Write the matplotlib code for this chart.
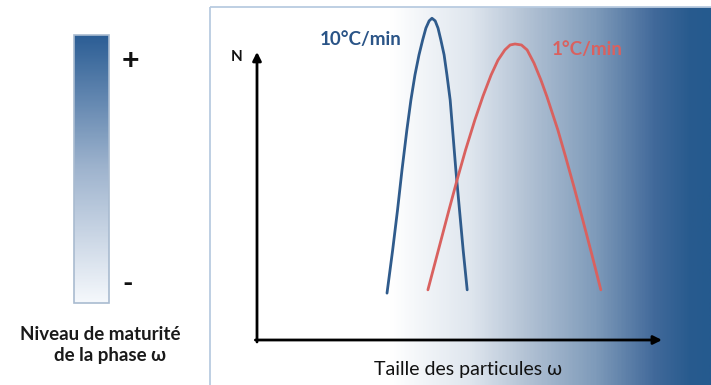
import numpy as np
import matplotlib
matplotlib.use("Agg")
import matplotlib.pyplot as plt
from matplotlib.colors import LinearSegmentedColormap
from matplotlib.patches import Rectangle

plt.rcParams['font.family'] = ['Lato', 'DejaVu Sans']

# schematic curves: particle size (arbitrary units) vs N (arbitrary units)
size_10 = [32.1, 33.5, 34.7, 35.8, 37.0, 38.0, 39.0, 40.0, 40.9, 41.7, 42.5, 43.2,
           44.0, 44.7, 45.4, 46.2, 46.9, 47.7, 48.3, 49.1, 50.0, 50.9, 51.9]
n_10 = [14.2, 27.3, 39.4, 51.5, 63.6, 72.7, 80.3, 86.4, 90.9, 94.5, 96.7, 97.5,
        96.7, 94.5, 90.9, 86.4, 80.3, 72.7, 63.6, 51.5, 39.4, 27.3, 15.2]

size_1 = [42.2, 44.8, 47.4, 49.4, 51.5, 53.8, 55.8, 57.8, 59.5, 61.2, 62.5, 63.7,
          65.3, 66.7, 68.4, 70.1, 71.6, 74.3, 76.2, 78.4, 80.5, 82.7, 84.9]
n_1 = [15.2, 27.3, 39.4, 48.5, 57.6, 66.7, 73.9, 80.3, 84.8, 87.9, 89.4, 89.7,
       89.4, 87.9, 83.9, 78.8, 73.7, 63.6, 55.5, 45.8, 36.1, 25.8, 15.2]

label_10 = "10°C/min"
label_1 = "1°C/min"
xlabel = "Taille des particules ω"
ylabel = "N"
bar_title = ["Niveau de maturité", "de la phase ω"]
bar_ticks = ["+", "-"]

blue = "#2f5b8c"
red = "#d9615f"

W, H = 711, 385
fig = plt.figure(figsize=(W / 100, H / 100), dpi=100)

# background axes in pixel coordinates
bg = fig.add_axes([0, 0, 1, 1])
bg.set_xlim(0, W)
bg.set_ylim(H, 0)
bg.axis("off")

# right panel gradient (white -> dark blue from left to right)
panel_cmap = LinearSegmentedColormap.from_list("panel", [
    (0.0, "#ffffff"), (0.36, "#ffffff"), (0.52, "#dfe6ee"), (0.64, "#b0c0d3"),
    (0.77, "#7f9bba"), (0.89, "#41699a"), (0.96, "#285b8e"), (1.0, "#255a8e")])
grad = np.linspace(0, 1, 400).reshape(1, -1)
bg.imshow(grad, cmap=panel_cmap, aspect="auto", extent=(210, W, H, 7), zorder=0)
bg.add_patch(Rectangle((210, 7), 540, 400, fill=False, ec="#b9cbe0", lw=1.3, zorder=1))

# left maturity bar (dark at top, white at bottom)
bar_cmap = LinearSegmentedColormap.from_list("bar", ["#f5f8fc", "#9fb4ce", "#2c5e95"])
vgrad = np.linspace(1, 0, 300).reshape(-1, 1)
bg.imshow(vgrad, cmap=bar_cmap, aspect="auto", extent=(74, 109, 303, 35), zorder=1)
bg.add_patch(Rectangle((74, 35), 35, 268, fill=False, ec="#a9bbd0", lw=1.2, zorder=2))

bg.text(130, 61, bar_ticks[0], fontsize=22, fontweight="bold", ha="center", va="center", color="#111111")
bg.text(128, 284, bar_ticks[1], fontsize=20, fontweight="bold", ha="center", va="center", color="#111111")
bg.text(100, 335, bar_title[0], fontsize=13.5, fontweight="bold", ha="center", va="center", color="#1a1a1a")
bg.text(110, 355, bar_title[1], fontsize=13.5, fontweight="bold", ha="center", va="center", color="#1a1a1a")

# plot axes
x0, x1, ybot, ytop = 257, 662, 340, 10
ax = fig.add_axes([x0 / W, 1 - ybot / H, (x1 - x0) / W, (ybot - ytop) / H])
ax.set_xlim(0, 100)
ax.set_ylim(0, 100)
ax.axis("off")
ax.patch.set_alpha(0)

arrow = dict(arrowstyle="-|>,head_length=0.5,head_width=0.25", lw=2.0, color="black",
             shrinkA=0, shrinkB=0)
ax.annotate("", xy=(0, 87.3), xytext=(0, -0.6), arrowprops=arrow)
ax.annotate("", xy=(100, 0), xytext=(-0.4, 0), arrowprops=arrow)

ax.plot(size_10, n_10, color=blue, lw=2.0, solid_joinstyle="round", solid_capstyle="round")
ax.plot(size_1, n_1, color=red, lw=2.0, solid_joinstyle="round", solid_capstyle="round")

bg.text(237, 57, ylabel, fontsize=11, fontweight="bold", ha="center", va="center", color="#111111")
bg.text(361, 40, label_10, fontsize=13.5, fontweight="bold", ha="center", va="center", color="#2a5487")
bg.text(587, 49, label_1, fontsize=13.5, fontweight="bold", ha="center", va="center", color=red)
bg.text(468, 369, xlabel, fontsize=14, ha="center", va="center", color="#111111")

fig.savefig("out.png", dpi=100)
